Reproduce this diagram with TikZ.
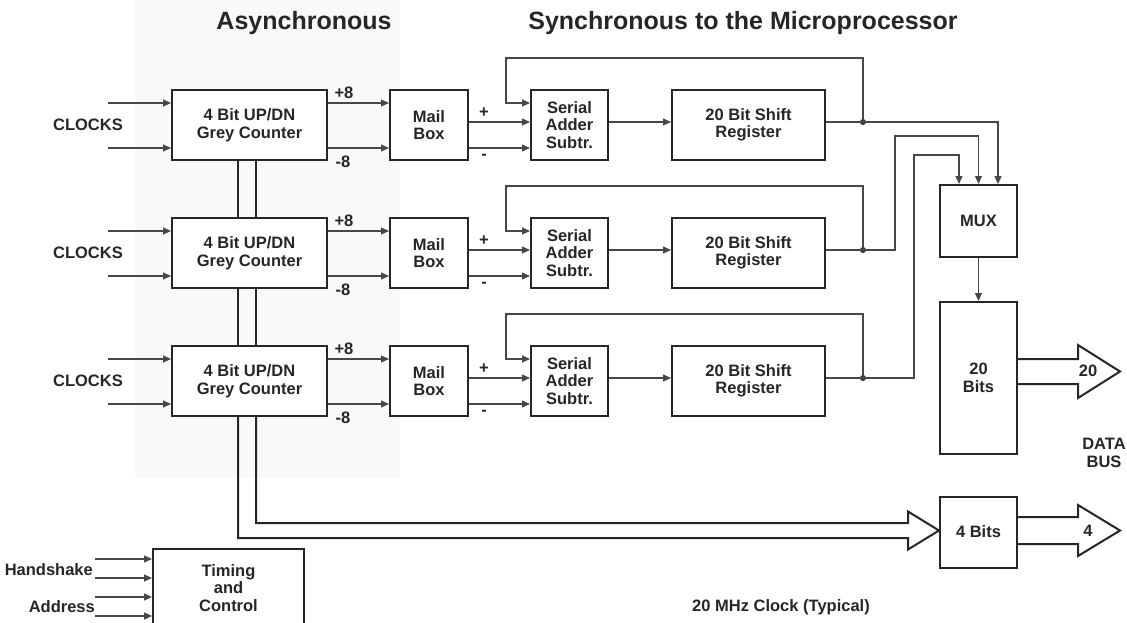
\documentclass[tikz,border=0pt]{standalone}
\usepackage{fontspec}
\setmainfont{Liberation Sans}
\usetikzlibrary{arrows.meta,calc}
\newcommand\dlbl{\fontsize{16.5}{17.5}\selectfont\bfseries}
\newcommand\dhd{\fontsize{25}{28}\selectfont\bfseries}
\tikzset{
  blk/.style={draw=black!85, line width=2pt, fill=white, align=center, font=\dlbl, text=black!85, inner sep=0pt},
  conn/.style={draw=black!72, line width=1.2pt},
  arr/.style={conn, -{Triangle[length=8pt,width=7pt]}},
  jdot/.style={circle, fill=black!80, inner sep=0pt, minimum size=6pt},
  txt/.style={font=\dlbl, text=black!85, align=center, inner sep=0pt},
  head/.style={font=\dhd, text=black!85, inner sep=0pt},
  bus/.style={draw=black!85, line width=2pt, line join=miter},
}
\begin{document}
\begin{tikzpicture}[x=1pt,y=-1pt]
\useasboundingbox (0,0) rectangle (1127,623);
\fill[white] (0,0) rectangle (1127,623);
\fill[black!2.5] (135,0) rectangle (400,478);

\node[head] (hasync) at (304,23) {Asynchronous};
\node[head] (hsync) at (743,23) {Synchronous to the Microprocessor};

\foreach \i/\r in {1/125,2/253,3/381}{
  \node[blk, minimum width=155pt, minimum height=70pt] (c\i) at (249.5,\r) {4 Bit UP/DN\\Grey Counter};
  \node[blk, minimum width=78pt, minimum height=70pt] (mb\i) at (429,\r) {Mail\\Box};
  \node[blk, minimum width=77pt, minimum height=70pt] (sa\i) at (569.5,\r) {Serial\\Adder\\Subtr.};
  \node[blk, minimum width=153pt, minimum height=70pt] (sr\i) at (748.5,\r) {20 Bit Shift\\Register};
  \node[txt] (clk\i) at (88,\r) {CLOCKS};
  \coordinate (cka\i) at (108,\r-22);
  \coordinate (ckb\i) at (108,\r+23);
  \draw[arr] (cka\i) -- (cka\i -| c\i.west);
  \draw[arr] (ckb\i) -- (ckb\i -| c\i.west);
  \draw[arr] ([yshift=22pt]c\i.east) -- ([yshift=22pt]mb\i.west);
  \draw[arr] ([yshift=-23pt]c\i.east) -- ([yshift=-23pt]mb\i.west);
  \node[txt] (p8\i) at (344,\r-32) {+8};
  \node[txt] (m8\i) at (343,\r+37) {-8};
  \draw[arr] ([yshift=3pt]mb\i.east) -- ([yshift=3pt]sa\i.west);
  \draw[arr] ([yshift=-23pt]mb\i.east) -- ([yshift=-23pt]sa\i.west);
  \node[txt] (pl\i) at (484,\r-12) {+};
  \node[txt] (mi\i) at (484,\r+32) {-};
  \draw[arr] ([yshift=3pt]sa\i.east) -- ([yshift=3pt]sr\i.west);
  \node[jdot] (j\i) at (863,\r-3) {};
  \draw[conn] ([yshift=3pt]sr\i.east) -- (j\i.center);
  \coordinate (fb\i) at (506,\r-22);
  \draw[arr] (j\i.center) -- (863,\r-67) -| (fb\i) -- (fb\i -| sa\i.west);
}

\node[blk, minimum width=77pt, minimum height=72pt] (mux) at (978.5,221) {MUX};
\node[blk, minimum width=77pt, minimum height=152pt] (b20) at (978.5,378) {20\\Bits};
\node[blk, minimum width=77pt, minimum height=71pt] (b4) at (978.5,532) {4 Bits};

\draw[arr] (j1.center) -| ([xshift=19.5pt]mux.north);
\draw[arr] (j2.center) -| (895,136) -| (mux.north);
\draw[arr] (j3.center) -| (914,155) -| ([xshift=-19.5pt]mux.north);
\draw[arr] (mux.south) -- (b20.north);

% counter bus
\draw[bus] ([xshift=-11.5pt]c1.south) -- ([xshift=-11.5pt]c2.north);
\draw[bus] ([xshift=6.5pt]c1.south) -- ([xshift=6.5pt]c2.north);
\draw[bus] ([xshift=-11.5pt]c2.south) -- ([xshift=-11.5pt]c3.north);
\draw[bus] ([xshift=6.5pt]c2.south) -- ([xshift=6.5pt]c3.north);
\coordinate (bh) at (908,530.5);
\draw[bus] ([xshift=6.5pt]c3.south) |- ([yshift=7.5pt]bh) -- ([yshift=19pt]bh) -- (b4.west |- bh) -- ([yshift=-19pt]bh) -- ([yshift=-7.5pt]bh) -| ([xshift=-11.5pt]c3.south);

% output arrows
\draw[bus] ([yshift=19pt]b20.east) -- ++(60,0) -- ++(0,-14) -- ++(42,26.5) -- ++(-42,26.5) -- ++(0,-14) -- ([yshift=-6pt]b20.east);
\node[txt] (l20) at (1088,371) {20};
\draw[bus] ([yshift=15pt]b4.east) -- ++(60,0) -- ++(0,-12) -- ++(42,25.5) -- ++(-42,25.5) -- ++(0,-12) -- ([yshift=-12pt]b4.east);
\node[txt] (l4) at (1088,531) {4};
\node[txt] (dbus) at (1104,453) {DATA\\BUS};

% timing and control
\node[blk, minimum width=151pt, minimum height=78pt] (tc) at (228.5,588) {Timing\\and\\Control};
\foreach \k/\d in {1/-29,2/-10,3/9,4/28}{
  \coordinate (ti\k) at (95,588+\d);
  \draw[arr] (ti\k) -- (ti\k -| tc.west);
}
\node[txt, anchor=east] (hs) at (93,570) {Handshake};
\node[txt, anchor=east] (ad) at (95,607) {Address};
\node[txt] (clk) at (781,607) {20 MHz Clock (Typical)};
\end{tikzpicture}
\end{document}
